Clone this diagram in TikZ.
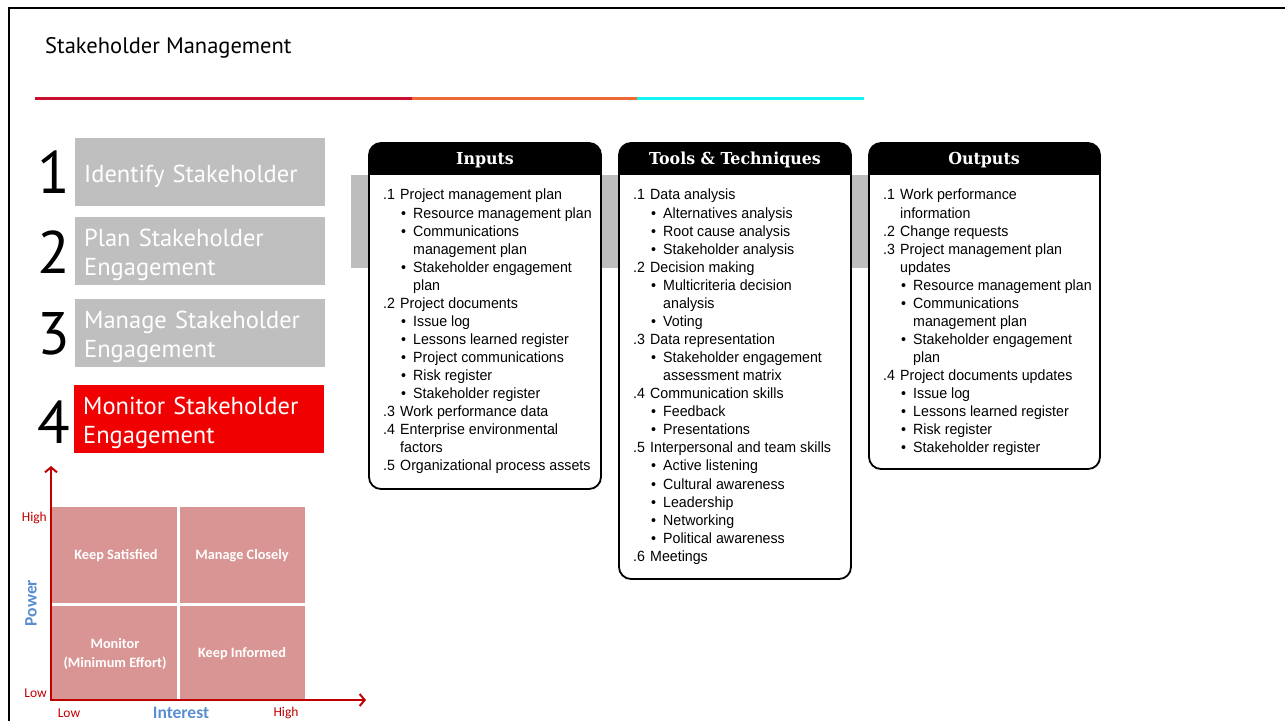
\documentclass[tikz,border=0pt]{standalone}
\usepackage{fontspec}
\setmainfont{PT Sans}
\newfontfamily\listfont[FakeStretch=0.96]{Liberation Sans}
\newfontfamily\headfont[FakeStretch=0.96]{DejaVu Serif}
\newfontfamily\gridfont{Carlito}
\usetikzlibrary{arrows.meta}
\usetikzlibrary{calc}

\definecolor{slidered}{HTML}{C8102E}
\definecolor{slideorange}{HTML}{EE6A35}
\definecolor{slidecyan}{HTML}{14F5F5}
\definecolor{stagegray}{HTML}{BFBFBF}
\definecolor{stagered}{HTML}{F00000}
\definecolor{bandgray}{HTML}{BDBDBD}
\definecolor{quadfill}{HTML}{D99594}
\definecolor{axisred}{HTML}{C00000}
\definecolor{axisblue}{HTML}{5A8ED0}

\newcommand{\pnum}[1]{\makebox[17pt][l]{#1}}
\newcommand{\pnc}{\hspace*{17pt}}
\newcommand{\pbul}{\hspace*{18pt}\makebox[12pt][l]{\textbullet}}
\newcommand{\pcont}{\hspace*{30pt}}

\tikzset{
  stagebox/.style={anchor=north west, minimum width=250, minimum height=68, text width=232, inner xsep=9, align=left, text=white, font=\fontsize{24.5}{29}\selectfont, execute at begin node={\rule{0pt}{25pt}}},
  stagenum/.style={anchor=west, inner sep=0, font=\fontsize{60}{60}\selectfont},
  listtext/.style={anchor=north west, inner sep=0, align=left, font=\listfont\fontsize{14.8}{18.07}\selectfont},
  headtext/.style={text=white, inner sep=0, font=\headfont\bfseries\fontsize{16.5}{16}\selectfont},
  quadtext/.style={text=white, align=center, font=\gridfont\bfseries\fontsize{14.3}{19}\selectfont},
  scaletext/.style={text=axisred, inner sep=0, font=\gridfont\fontsize{13.5}{14}\selectfont},
  axistext/.style={text=axisblue, inner sep=0, font=\gridfont\bfseries\fontsize{17.5}{17}\selectfont},
}

\begin{document}
\begin{tikzpicture}[x=1pt,y=-1pt]
\useasboundingbox (0,0) rectangle (1285,721);

%frame and title
\draw[line width=2.5] (9,721) -- (9,8) -- (1285,8);
\node[anchor=base west, inner sep=0, font=\fontsize{22.5}{23}\selectfont] (title) at (45,53) {Stakeholder Management};
\draw[line width=3, slidered] (35,98) -- (412,98);
\draw[line width=3, slideorange] (412,98) -- (637,98);
\draw[line width=3, slidecyan] (637,98) -- (864,98);

%stages
\node[stagebox, fill=stagegray] (identify) at (75,138) {Identify Stakeholder};
\node[stagebox, fill=stagegray] (plan) at (75,217) {Plan Stakeholder\\Engagement};
\node[stagebox, fill=stagegray] (manage) at (75,299) {Manage Stakeholder\\Engagement};
\node[stagebox, fill=stagered] (monitor) at (74,385) {Monitor Stakeholder\\Engagement};
\node[stagenum] (n1) at (37,172) {1};
\node[stagenum] (n2) at (37,252) {2};
\node[stagenum] (n3) at (37,334) {3};
\node[stagenum] (n4) at (37,422) {4};

%power / interest grid
\fill[quadfill] (52,507) rectangle (177,603);
\fill[quadfill] (180,507) rectangle (305,603);
\fill[quadfill] (52,606) rectangle (177,700);
\fill[quadfill] (180,606) rectangle (305,700);
\coordinate (origin) at (51,700);
\coordinate (powertop) at (51,466);
\coordinate (interestend) at (366,700);
\draw[axisred, line width=2, {Straight Barb[length=5,width=12]}-{Straight Barb[length=5,width=12]}] (powertop) |- (interestend);
\node[quadtext] (satisfied) at (116,556) {Keep Satisfied};
\node[quadtext] (closely) at (242,556) {Manage Closely};
\node[quadtext] (minimum) at (115,654) {Monitor\\(Minimum Effort)};
\node[quadtext] (informed) at (242,654) {Keep Informed};
\node[scaletext, anchor=east] (powerhigh) at (47,518) {High};
\node[scaletext, anchor=east] (powerlow) at (47,693) {Low};
\node[scaletext] (interestlow) at (69,713) {Low};
\node[scaletext] (interesthigh) at (286,713) {High};
\node[axistext, rotate=90] (power) at (31,603) {Power};
\node[axistext] (interest) at (181,713) {Interest};

%ITTO tables
\fill[bandgray] (351,175) rectangle (1100,268);
\filldraw[fill=white, line width=1.8, rounded corners=12] (369,143) rectangle (601,489);
\filldraw[fill=white, line width=1.8, rounded corners=12] (619,143) rectangle (851,579);
\filldraw[fill=white, line width=1.8, rounded corners=12] (869,143) rectangle (1100,469);
\begin{scope}
\clip[rounded corners=12] (369,143) rectangle (601,489);
\fill (369,143) rectangle (601,175);
\end{scope}
\begin{scope}
\clip[rounded corners=12] (619,143) rectangle (851,579);
\fill (619,143) rectangle (851,175);
\end{scope}
\begin{scope}
\clip[rounded corners=12] (869,143) rectangle (1100,469);
\fill (869,143) rectangle (1100,175);
\end{scope}
\node[headtext] (inputshead) at (485,160) {Inputs};
\node[headtext] (toolshead) at (735,160) {Tools \& Techniques};
\node[headtext] (outputshead) at (984,160) {Outputs};

\node[listtext] (inputs) at (383,189) {%
\pnum{.1}Project management plan\\
\pbul Resource management plan\\
\pbul Communications\\
\pcont management plan\\
\pbul Stakeholder engagement\\
\pcont plan\\
\pnum{.2}Project documents\\
\pbul Issue log\\
\pbul Lessons learned register\\
\pbul Project communications\\
\pbul Risk register\\
\pbul Stakeholder register\\
\pnum{.3}Work performance data\\
\pnum{.4}Enterprise environmental\\
\pnc factors\\
\pnum{.5}Organizational process assets};

\node[listtext] (tools) at (633,189) {%
\pnum{.1}Data analysis\\
\pbul Alternatives analysis\\
\pbul Root cause analysis\\
\pbul Stakeholder analysis\\
\pnum{.2}Decision making\\
\pbul Multicriteria decision\\
\pcont analysis\\
\pbul Voting\\
\pnum{.3}Data representation\\
\pbul Stakeholder engagement\\
\pcont assessment matrix\\
\pnum{.4}Communication skills\\
\pbul Feedback\\
\pbul Presentations\\
\pnum{.5}Interpersonal and team skills\\
\pbul Active listening\\
\pbul Cultural awareness\\
\pbul Leadership\\
\pbul Networking\\
\pbul Political awareness\\
\pnum{.6}Meetings};

\node[listtext] (outputs) at (883,189) {%
\pnum{.1}Work performance\\
\pnc information\\
\pnum{.2}Change requests\\
\pnum{.3}Project management plan\\
\pnc updates\\
\pbul Resource management plan\\
\pbul Communications\\
\pcont management plan\\
\pbul Stakeholder engagement\\
\pcont plan\\
\pnum{.4}Project documents updates\\
\pbul Issue log\\
\pbul Lessons learned register\\
\pbul Risk register\\
\pbul Stakeholder register};

\end{tikzpicture}
\end{document}
